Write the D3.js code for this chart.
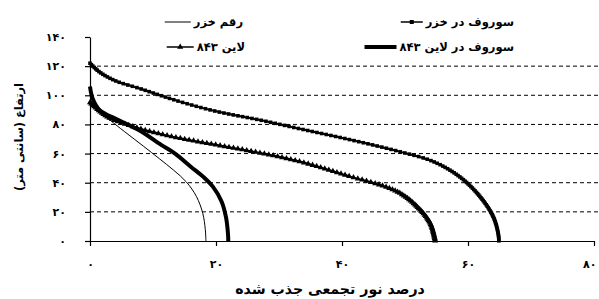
<!DOCTYPE html>
<html><head><meta charset="utf-8">
<script src="https://cdn.jsdelivr.net/npm/d3@7"></script>
<style>body{margin:0;background:#fff}svg{display:block;font-family:"DejaVu Sans",sans-serif}</style>
</head><body><svg id="c" width="599" height="299"></svg>
<script>
// Data (x = cumulative absorbed light %, y = height cm)
const seriesNames = ["رقم خزر", "لاین ۸۴۳", "سوروف در خزر", "سوروف در لاین ۸۴۳"];
const cultivarKhazar = [[0,96],[1.2,89.5],[2.85,84],[5.5,75],[8.5,65],[11,56.5],[13.3,48.5],[15.3,40.5],[16.9,30.5],[17.9,19],[18.3,8],[18.4,0]];
const line843 = [[0,95],[2.85,85],[7.6,77.5],[11.6,73],[15.5,69.5],[20.6,65.5],[27,60.4],[33.3,54.5],[41.3,44.2],[46,38.5],[49.2,32.8],[51.9,23.6],[54,12.2],[54.8,0]];
const weedKhazar = [[0,122],[1.5,116],[4,110],[8,104.5],[14,96],[20,89],[27,83],[33.3,77],[41.3,69.5],[49,61.5],[54.5,54.5],[58.7,44],[61.9,30.5],[64,16.7],[64.8,5],[64.9,0]];
const weed843 = [[0,106],[0.4,98],[1.5,90],[4.5,83],[7.8,76],[11.3,66],[13.5,60],[16,51],[18,44],[19.5,37.3],[20.9,27],[21.6,16],[21.9,5],[21.95,0]];
const xTicks = [0,20,40,60,80];
const yTicks = [0,20,40,60,80,100,120,140];
const xTitle = "درصد نور تجمعی جذب شده";
const yTitle = "ارتفاع (سانتی متر)";

const fa = n => String(n).replace(/\d/g, d => "۰۱۲۳۴۵۶۷۸۹"[d]);
const svg = d3.select("#c");
const x = d3.scaleLinear([0,80],[90,594]);
const y = d3.scaleLinear([0,140],[241,37]);

function fit(sel, w){ const n=sel.node(); const fs=parseFloat(sel.attr("font-size")); const cw=n.getComputedTextLength(); if(cw>0) sel.attr("font-size", fs*w/cw); return sel; }

// gridlines
svg.append("g").selectAll("line").data(yTicks.filter(v=>v>0&&v<140)).join("line")
  .attr("x1",x(0)).attr("x2",598).attr("y1",d=>y(d)).attr("y2",d=>y(d))
  .attr("stroke","#000").attr("stroke-width",1).attr("stroke-dasharray","4,3");

// axes
const ax = svg.append("g").attr("transform",`translate(0,${y(0)})`)
  .call(d3.axisBottom(x).tickValues(xTicks).tickFormat(fa).tickSize(5).tickSizeOuter(0).tickPadding(14));
const ay = svg.append("g").attr("transform",`translate(${x(0)},0)`)
  .call(d3.axisLeft(y).tickValues(yTicks).tickFormat(fa).tickSize(5).tickSizeOuter(0).tickPadding(19));
[ax,ay].forEach(a=>{a.selectAll("path,line").attr("stroke","#000").attr("stroke-width",1.2);
  a.selectAll("text").attr("font-size",11).attr("font-weight","bold").attr("fill","#000")
   .attr("font-family","DejaVu Sans").attr("letter-spacing",2);});
ax.selectAll(".tick").filter(d=>d===80).select("text").attr("text-anchor","end").attr("dx",2);

const line = d3.line().x(d=>x(d[0])).y(d=>y(d[1])).curve(d3.curveCatmullRom.alpha(0.5));

function markers(node, minDist, minDy){
  const L=node.getTotalLength(), pts=[]; let last=null;
  for(let s=0;s<=L;s+=0.25){const p=node.getPointAtLength(s);
    if(!last||Math.hypot(p.x-last.x,p.y-last.y)>=minDist||Math.abs(p.y-last.y)>=minDy){pts.push(p);last=p;}}
  return pts;
}

// series
svg.append("path").datum(cultivarKhazar).attr("d",line).attr("fill","none").attr("stroke","#000").attr("stroke-width",1);
const pTri = svg.append("path").datum(line843).attr("d",line).attr("fill","none").attr("stroke","#000").attr("stroke-width",2);
const pSq = svg.append("path").datum(weedKhazar).attr("d",line).attr("fill","none").attr("stroke","#000").attr("stroke-width",2);
svg.append("path").datum(weed843).attr("d",line).attr("fill","none").attr("stroke","#000").attr("stroke-width",4);

const tri = d3.symbol(d3.symbolTriangle, 16)();
svg.append("g").selectAll("path").data(markers(pTri.node(),4.4,1.2)).join("path")
  .attr("d",tri).attr("transform",d=>`translate(${d.x},${d.y})`).attr("fill","#000");
svg.append("g").selectAll("rect").data(markers(pSq.node(),4.7,1.3)).join("rect")
  .attr("x",d=>d.x-1.8).attr("y",d=>d.y-1.8).attr("width",3.6).attr("height",3.6).attr("fill","#000");

// legend: text right-aligned, line sample placed to its left
const lg = svg.append("g").attr("font-weight","bold");
const legendItems = [
  {name:seriesNames[0], right:243, ly:22, len:26, w:1, m:null},
  {name:seriesNames[1], right:245, ly:47, len:27, w:1.5, m:"tri"},
  {name:seriesNames[2], right:514, ly:22, len:22, w:1.5, m:"sq"},
  {name:seriesNames[3], right:514, ly:47, len:32, w:4, m:null}
];
legendItems.forEach(it=>{
  const t = lg.append("text").attr("x",it.right).attr("y",it.ly+4).attr("direction","ltr").attr("text-anchor","end").attr("font-size",11.5).text(it.name);
  const left = it.right - t.node().getComputedTextLength() - 3;
  const lx = [left-it.len, left];
  lg.append("line").attr("x1",lx[0]).attr("x2",lx[1]).attr("y1",it.ly).attr("y2",it.ly).attr("stroke","#000").attr("stroke-width",it.w);
  const mx=(lx[0]+lx[1])/2;
  if(it.m==="tri") lg.append("path").attr("d",tri).attr("transform",`translate(${mx},${it.ly})`);
  if(it.m==="sq") lg.append("rect").attr("x",mx-2).attr("y",it.ly-2).attr("width",4).attr("height",4);
});

// titles
fit(svg.append("text").attr("x",330).attr("y",294).attr("text-anchor","middle").attr("font-size",12).attr("font-weight","bold").text(xTitle), 190);
fit(svg.append("text").attr("transform","translate(23,137) rotate(-90)").attr("text-anchor","middle").attr("font-size",12).attr("font-weight","bold").text(yTitle), 108);
</script></body></html>
